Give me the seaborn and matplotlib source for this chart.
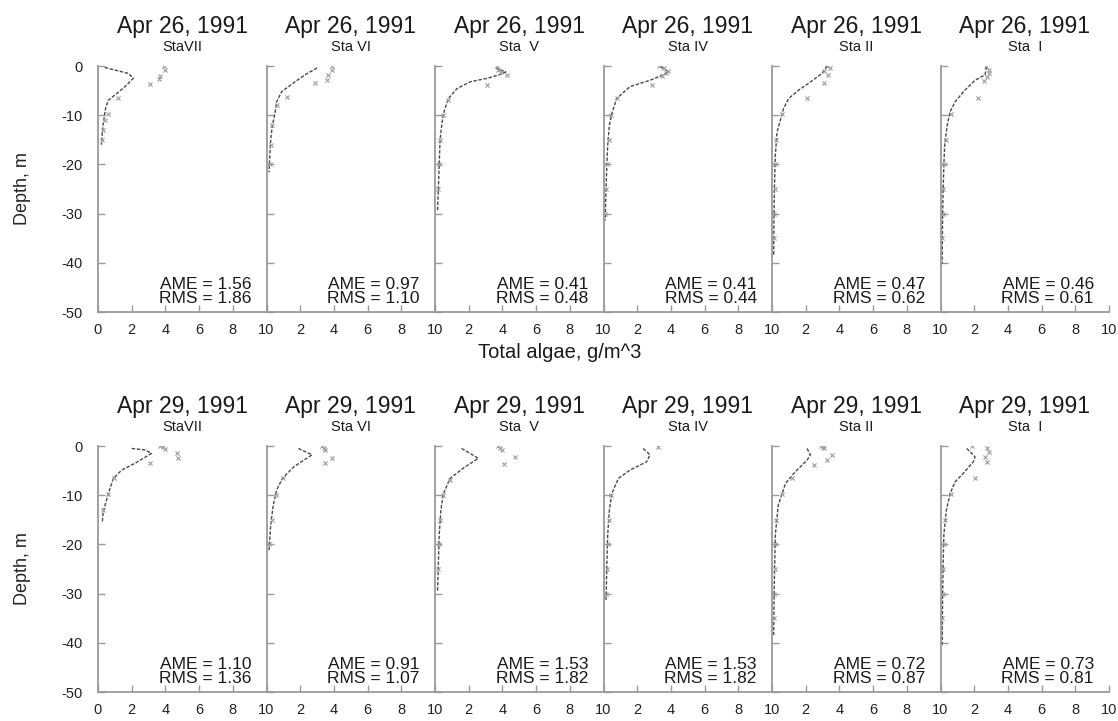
import matplotlib
matplotlib.use("Agg")
import matplotlib.pyplot as plt
import seaborn as sns
import pandas as pd

sns.set_theme(style="ticks")
plt.rcParams["font.family"] = ["Liberation Sans", "DejaVu Sans"]

# ---- labels --------------------------------------------------------------
dates = ["Apr 26, 1991", "Apr 29, 1991"]
stations = ["StaVII", "Sta VI", "Sta  V", "Sta IV", "Sta II", "Sta  I"]
x_label = "Total algae, g/m^3"
y_label = "Depth, m"
x_ticks = [0, 2, 4, 6, 8, 10]
y_ticks = [0, -10, -20, -30, -40, -50]

# ---- error statistics per station ---------------------------------------
ame_0426 = [1.56, 0.97, 0.41, 0.41, 0.47, 0.46]
rms_0426 = [1.86, 1.10, 0.48, 0.44, 0.62, 0.61]
ame_0429 = [1.10, 0.91, 1.53, 1.53, 0.72, 0.73]
rms_0429 = [1.36, 1.07, 1.82, 1.82, 0.87, 0.81]

# ---- Apr 26: model profiles (depth, value) and observations -------------
mod_d_0426_VII = [-0.3, -1.5, -2.5, -4.2, -5.9, -7.0, -8.6, -9.7, -12, -14, -16]
mod_v_0426_VII = [0.4, 1.8, 2.1, 1.6, 1.0, 0.6, 0.45, 0.4, 0.3, 0.25, 0.2]
obs_d_0426_VII = [-0.1, -0.8, -2.0, -2.7, -3.7, -6.6, -9.7, -11, -13, -15]
obs_v_0426_VII = [3.9, 4.0, 3.7, 3.6, 3.1, 1.2, 0.6, 0.4, 0.3, 0.25]

mod_d_0426_VI = [-0.4, -1.8, -3.2, -5.2, -7.3, -9.7, -12, -15, -18, -21.6]
mod_v_0426_VI = [3.0, 2.28, 1.7, 0.9, 0.6, 0.5, 0.35, 0.25, 0.2, 0.15]
obs_d_0426_VI = [-0.1, -0.8, -1.8, -2.8, -3.5, -6.3, -8, -12, -16, -20]
obs_v_0426_VI = [3.87, 3.9, 3.67, 3.6, 2.9, 1.2, 0.6, 0.35, 0.25, 0.2]

mod_d_0426_V = [-0.4, -1.2, -1.8, -2.5, -3.2, -4.6, -6.6, -8.6, -9.7, -12, -15, -20, -25, -29.4]
mod_v_0426_V = [3.6, 4.2, 3.8, 3.1, 2.1, 1.3, 0.8, 0.6, 0.5, 0.4, 0.3, 0.25, 0.2, 0.15]
obs_d_0426_V = [0, -0.8, -1.2, -1.8, -3.9, -6.9, -10, -15, -20, -25]
obs_v_0426_V = [3.66, 3.76, 3.9, 4.3, 3.07, 0.8, 0.5, 0.3, 0.25, 0.2]

mod_d_0426_IV = [-0.1, -1.2, -2.0, -2.9, -4.2, -6.6, -9.7, -12, -16, -20, -25, -31.4]
mod_v_0426_IV = [3.4, 3.85, 3.4, 2.76, 1.57, 0.78, 0.49, 0.35, 0.25, 0.2, 0.15, 0.1]
obs_d_0426_IV = [0, -0.5, -1.0, -1.5, -2.0, -3.8, -6.6, -10, -15, -20, -25, -30]
obs_v_0426_IV = [3.3, 3.6, 3.85, 3.7, 3.5, 2.9, 0.8, 0.45, 0.3, 0.2, 0.15, 0.1]

mod_d_0426_II = [0, -1.5, -3.5, -4.9, -6.6, -8.6, -9.7, -13.4, -18, -24, -30, -38.6]
mod_v_0426_II = [3.27, 2.97, 2.18, 1.58, 0.99, 0.69, 0.6, 0.3, 0.2, 0.15, 0.12, 0.1]
obs_d_0426_II = [0, -0.5, -1.0, -1.8, -3.5, -6.6, -9.7, -15, -20, -25, -30, -35]
obs_v_0426_II = [3.3, 3.45, 3.1, 3.35, 3.07, 2.08, 0.6, 0.25, 0.2, 0.15, 0.12, 0.1]

mod_d_0426_I = [-0.1, -1.8, -2.9, -4.9, -7.3, -9.3, -12, -16, -20, -26, -32, -40.2]
mod_v_0426_I = [2.74, 2.64, 2.05, 1.45, 0.86, 0.57, 0.4, 0.25, 0.2, 0.15, 0.12, 0.1]
obs_d_0426_I = [0, -0.8, -1.5, -2.2, -3.0, -6.6, -9.7, -15, -20, -25, -30, -35]
obs_v_0426_I = [2.7, 2.85, 2.9, 2.75, 2.6, 2.25, 0.6, 0.3, 0.2, 0.15, 0.12, 0.1]

# ---- Apr 29: model profiles (depth, value) and observations -------------
mod_d_0429_VII = [-0.5, -0.8, -1.5, -3.5, -4.9, -6.6, -9.7, -13.4, -15.7]
mod_v_0429_VII = [2.0, 2.79, 3.18, 2.2, 1.4, 0.91, 0.61, 0.31, 0.25]
obs_d_0429_VII = [0, -0.3, -0.6, -1.5, -2.5, -3.5, -6.6, -9.7, -13]
obs_v_0429_VII = [3.67, 3.85, 3.96, 4.67, 4.77, 3.1, 0.95, 0.6, 0.3]

mod_d_0429_VI = [-0.5, -1.5, -1.8, -4.2, -6.6, -9.0, -12, -16, -21.4]
mod_v_0429_VI = [1.89, 2.52, 2.7, 1.63, 0.94, 0.6, 0.4, 0.25, 0.15]
obs_d_0429_VI = [-0.1, -0.5, -0.8, -2.5, -3.5, -6.6, -10, -15, -20]
obs_v_0429_VI = [3.28, 3.4, 3.47, 3.87, 3.47, 1.0, 0.55, 0.3, 0.15]

mod_d_0429_V = [-0.5, -2.5, -4.5, -6.6, -9.7, -13, -18, -24, -29.4]
mod_v_0429_V = [1.58, 2.57, 1.68, 0.89, 0.5, 0.35, 0.25, 0.2, 0.15]
obs_d_0429_V = [0, -0.4, -0.8, -2.2, -3.7, -6.9, -10, -15, -20, -25]
obs_v_0429_V = [3.76, 3.85, 3.96, 4.75, 4.1, 0.9, 0.5, 0.3, 0.25, 0.2]

mod_d_0429_IV = [-0.5, -1.8, -3.2, -4.9, -6.6, -9.7, -13, -18, -24, -31.4]
mod_v_0429_IV = [2.36, 2.76, 2.56, 1.57, 0.88, 0.49, 0.35, 0.25, 0.2, 0.15]
obs_d_0429_IV = [-0.2, -10, -15, -20, -25, -30]
obs_v_0429_IV = [3.25, 0.45, 0.3, 0.25, 0.2, 0.15]

mod_d_0429_II = [-0.5, -1.8, -2.9, -5.2, -7.6, -9.7, -12, -18, -25, -32, -38.4]
mod_v_0429_II = [2.08, 2.28, 2.08, 1.39, 0.8, 0.6, 0.37, 0.2, 0.15, 0.12, 0.1]
obs_d_0429_II = [-0.1, -0.3, -0.5, -1.8, -2.9, -3.9, -6.5, -9.7, -15, -20, -25, -30, -35]
obs_v_0429_II = [2.9, 3.0, 3.1, 3.57, 3.27, 2.47, 1.2, 0.6, 0.25, 0.2, 0.15, 0.12, 0.1]

mod_d_0429_I = [-0.5, -2.2, -3.2, -5.2, -7.3, -9.7, -13, -18, -25, -32, -40.4]
mod_v_0429_I = [1.56, 2.05, 1.95, 1.45, 0.86, 0.57, 0.35, 0.2, 0.15, 0.12, 0.1]
obs_d_0429_I = [0, -0.5, -1.2, -2.2, -3.2, -6.6, -9.7, -15, -20, -25, -30, -35]
obs_v_0429_I = [1.85, 2.74, 2.85, 2.64, 2.74, 2.05, 0.6, 0.25, 0.2, 0.15, 0.12, 0.1]

rows = [
    (dates[0], ame_0426, rms_0426, [
        (mod_d_0426_VII, mod_v_0426_VII, obs_d_0426_VII, obs_v_0426_VII),
        (mod_d_0426_VI, mod_v_0426_VI, obs_d_0426_VI, obs_v_0426_VI),
        (mod_d_0426_V, mod_v_0426_V, obs_d_0426_V, obs_v_0426_V),
        (mod_d_0426_IV, mod_v_0426_IV, obs_d_0426_IV, obs_v_0426_IV),
        (mod_d_0426_II, mod_v_0426_II, obs_d_0426_II, obs_v_0426_II),
        (mod_d_0426_I, mod_v_0426_I, obs_d_0426_I, obs_v_0426_I),
    ]),
    (dates[1], ame_0429, rms_0429, [
        (mod_d_0429_VII, mod_v_0429_VII, obs_d_0429_VII, obs_v_0429_VII),
        (mod_d_0429_VI, mod_v_0429_VI, obs_d_0429_VI, obs_v_0429_VI),
        (mod_d_0429_V, mod_v_0429_V, obs_d_0429_V, obs_v_0429_V),
        (mod_d_0429_IV, mod_v_0429_IV, obs_d_0429_IV, obs_v_0429_IV),
        (mod_d_0429_II, mod_v_0429_II, obs_d_0429_II, obs_v_0429_II),
        (mod_d_0429_I, mod_v_0429_I, obs_d_0429_I, obs_v_0429_I),
    ]),
]

W, H = 1118, 721
fig = plt.figure(figsize=(W / 100, H / 100), dpi=100)

ax_left = 98
ax_w = 168.5
row_top = [66, 446]        # pixel row of depth 0
ax_h = 246                 # pixel height of 0..-50 m

spine_col = "#9a9a9a"
line_col = "#4a4a4a"
obs_col = "#9c9c9c"
text_col = "#1a1a1a"

for r, (date, ame, rms, panels) in enumerate(rows):
    for i, (md, mv, od, ov) in enumerate(panels):
        left = (ax_left + i * ax_w) / W
        bottom = 1 - (row_top[r] + ax_h) / H
        ax = fig.add_axes([left, bottom, ax_w / W, ax_h / H])
        ax.patch.set_alpha(0)

        model = pd.DataFrame({"algae": mv, "depth": md})
        obs = pd.DataFrame({"algae": ov, "depth": od})
        sns.lineplot(data=model, x="algae", y="depth", sort=False, estimator=None,
                     color=line_col, lw=1.0, ax=ax, linestyle=(0, (2.5, 1.2)))
        sns.scatterplot(data=obs, x="algae", y="depth", marker="x", s=9,
                        color=obs_col, linewidth=0.8, ax=ax, zorder=3)

        ax.set_xlim(0, 10)
        ax.set_ylim(-50, 0)
        for s in ("top", "right"):
            ax.spines[s].set_visible(False)
        for s in ("left", "bottom"):
            ax.spines[s].set_color(spine_col)
            ax.spines[s].set_linewidth(1.3)
        ax.tick_params(direction="in", length=5, width=1.0, color=spine_col,
                       labelsize=10.5, labelcolor="#222222")
        ax.tick_params(axis="x", pad=8)
        ax.tick_params(axis="y", pad=11)

        xt = x_ticks if i == len(panels) - 1 else x_ticks[:-1]
        xl = [str(t) for t in xt]
        if i > 0:
            xl[0] = "10"
        ax.set_xticks(xt)
        ax.set_xticklabels(xl)
        ax.set_yticks(y_ticks)
        if i == 0:
            ax.set_yticklabels([str(t) for t in y_ticks])
            ax.set_ylabel(y_label, fontsize=13, labelpad=22)
        else:
            ax.set_yticklabels([])
            ax.set_ylabel("")
        ax.set_xlabel("")

        ax.text(0.5, 1.159, date, transform=ax.transAxes, ha="center",
                va="center", fontsize=16.5, color=text_col)
        ax.text(0.5, 1.077, stations[i], transform=ax.transAxes, ha="center",
                va="center", fontsize=10.5, color=text_col)
        ax.text(0.91, 0.11, f"AME = {ame[i]:.2f}", transform=ax.transAxes,
                ha="right", va="center", fontsize=12.5, color=text_col)
        ax.text(0.91, 0.055, f"RMS = {rms[i]:.2f}", transform=ax.transAxes,
                ha="right", va="center", fontsize=12.5, color=text_col)

fig.text(560 / W, 1 - 352 / H, x_label, ha="center", va="center",
         fontsize=14.5, color=text_col)

fig.savefig("out.png", dpi=100, facecolor="white")
